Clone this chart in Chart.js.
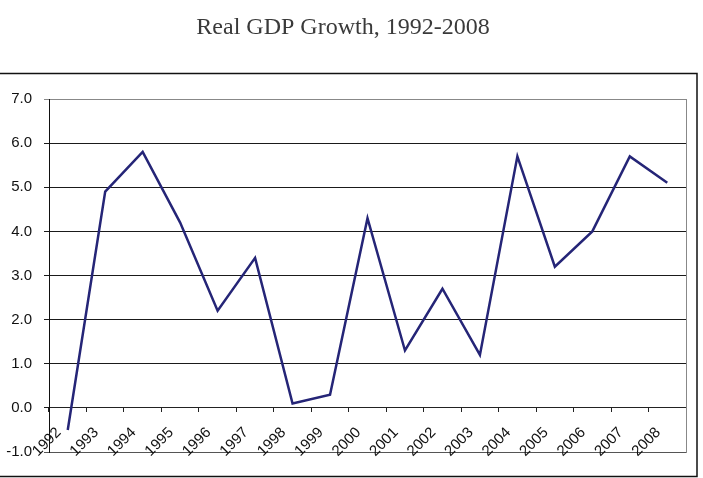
<!DOCTYPE html>
<html>
<head>
<meta charset="utf-8">
<title>Real GDP Growth, 1992-2008</title>
<script src="https://cdn.jsdelivr.net/npm/chart.js@4/dist/chart.umd.min.js"></script>
<style>
  html, body { margin: 0; padding: 0; background: #fff; }
  #wrap { width: 703px; height: 478px; }
</style>
</head>
<body>
<div id="wrap"><canvas id="gdpChart" width="703" height="478"></canvas></div>
<script>
// Chart data
const years = ['1992', '1993', '1994', '1995', '1996', '1997', '1998', '1999', '2000',
               '2001', '2002', '2003', '2004', '2005', '2006', '2007', '2008'];
const growth = [-0.5, 4.9, 5.8, 4.2, 2.2, 3.4, 0.1, 0.3, 4.3,
                1.3, 2.7, 1.2, 5.7, 3.2, 4.0, 5.7, 5.1];
const yMin = -1;
const yMax = 7;
const yStep = 1;

// Outer frame around the plot (like the spreadsheet chart border)
const framePlugin = {
    id: 'frame',
    beforeDraw(chart) {
        const c = chart.ctx;
        c.save();
        c.strokeStyle = '#111';
        c.lineWidth = 1.5;
        c.beginPath();
        c.moveTo(0, 73.5);
        c.lineTo(697, 73.5);
        c.lineTo(697, 476.5);
        c.lineTo(0, 476.5);
        c.stroke();
        c.restore();
    }
};

const ctx = document.getElementById('gdpChart').getContext('2d');

new Chart(ctx, {
    type: 'line',
    data: {
        labels: years,
        datasets: [{
            label: 'Real GDP Growth',
            data: growth,
            borderColor: '#252577',
            borderWidth: 2.5,
            pointRadius: 0,
            tension: 0,
            fill: false
        }]
    },
    options: {
        responsive: false,
        animation: false,
        layout: {
            // the x axis sits on the 0 line, so the space under the plot comes from here
            padding: { left: 0, right: 17, top: 0, bottom: 26 }
        },
        plugins: {
            legend: { display: false },
            tooltip: { enabled: false },
            title: {
                display: true,
                text: 'Real GDP Growth, 1992-2008',
                color: '#3a3a3a',
                font: { family: '"Liberation Serif", "Times New Roman", serif', size: 24, weight: 'normal' },
                padding: { top: 13, bottom: 57.2 }
            }
        },
        scales: {
            x: {
                type: 'category',
                position: { y: 0 },
                offset: true,
                grid: {
                    offset: true,
                    drawOnChartArea: false,
                    drawTicks: true,
                    tickLength: 4,
                    color: '#222'
                },
                border: { display: true, color: '#222', width: 1 },
                ticks: {
                    autoSkip: false,
                    minRotation: 45,
                    maxRotation: 45,
                    padding: 12,
                    labelOffset: -9,
                    color: '#111',
                    font: { family: '"Liberation Sans", Arial, sans-serif', size: 15 }
                }
            },
            y: {
                min: yMin,
                max: yMax,
                grid: {
                    tickLength: 5,
                    color: (c) => {
                        if (c.tick && c.tick.value === yMax) return '#888';
                        if (c.tick && c.tick.value === yMin) return '#555';
                        return '#1a1a1a';
                    }
                },
                border: { display: true, color: '#111', width: 1 },
                ticks: {
                    stepSize: yStep,
                    padding: 12,
                    color: '#111',
                    font: { family: '"Liberation Sans", Arial, sans-serif', size: 15 },
                    callback: (v) => Number(v).toFixed(1)
                },
                afterFit(scale) { scale.width = 49; }
            },
            yRight: {
                position: 'right',
                grid: { display: false },
                ticks: { display: false },
                border: { display: true, color: '#888', width: 1 },
                afterFit(scale) { scale.width = 0; }
            }
        }
    },
    plugins: [framePlugin]
});
</script>
</body>
</html>
